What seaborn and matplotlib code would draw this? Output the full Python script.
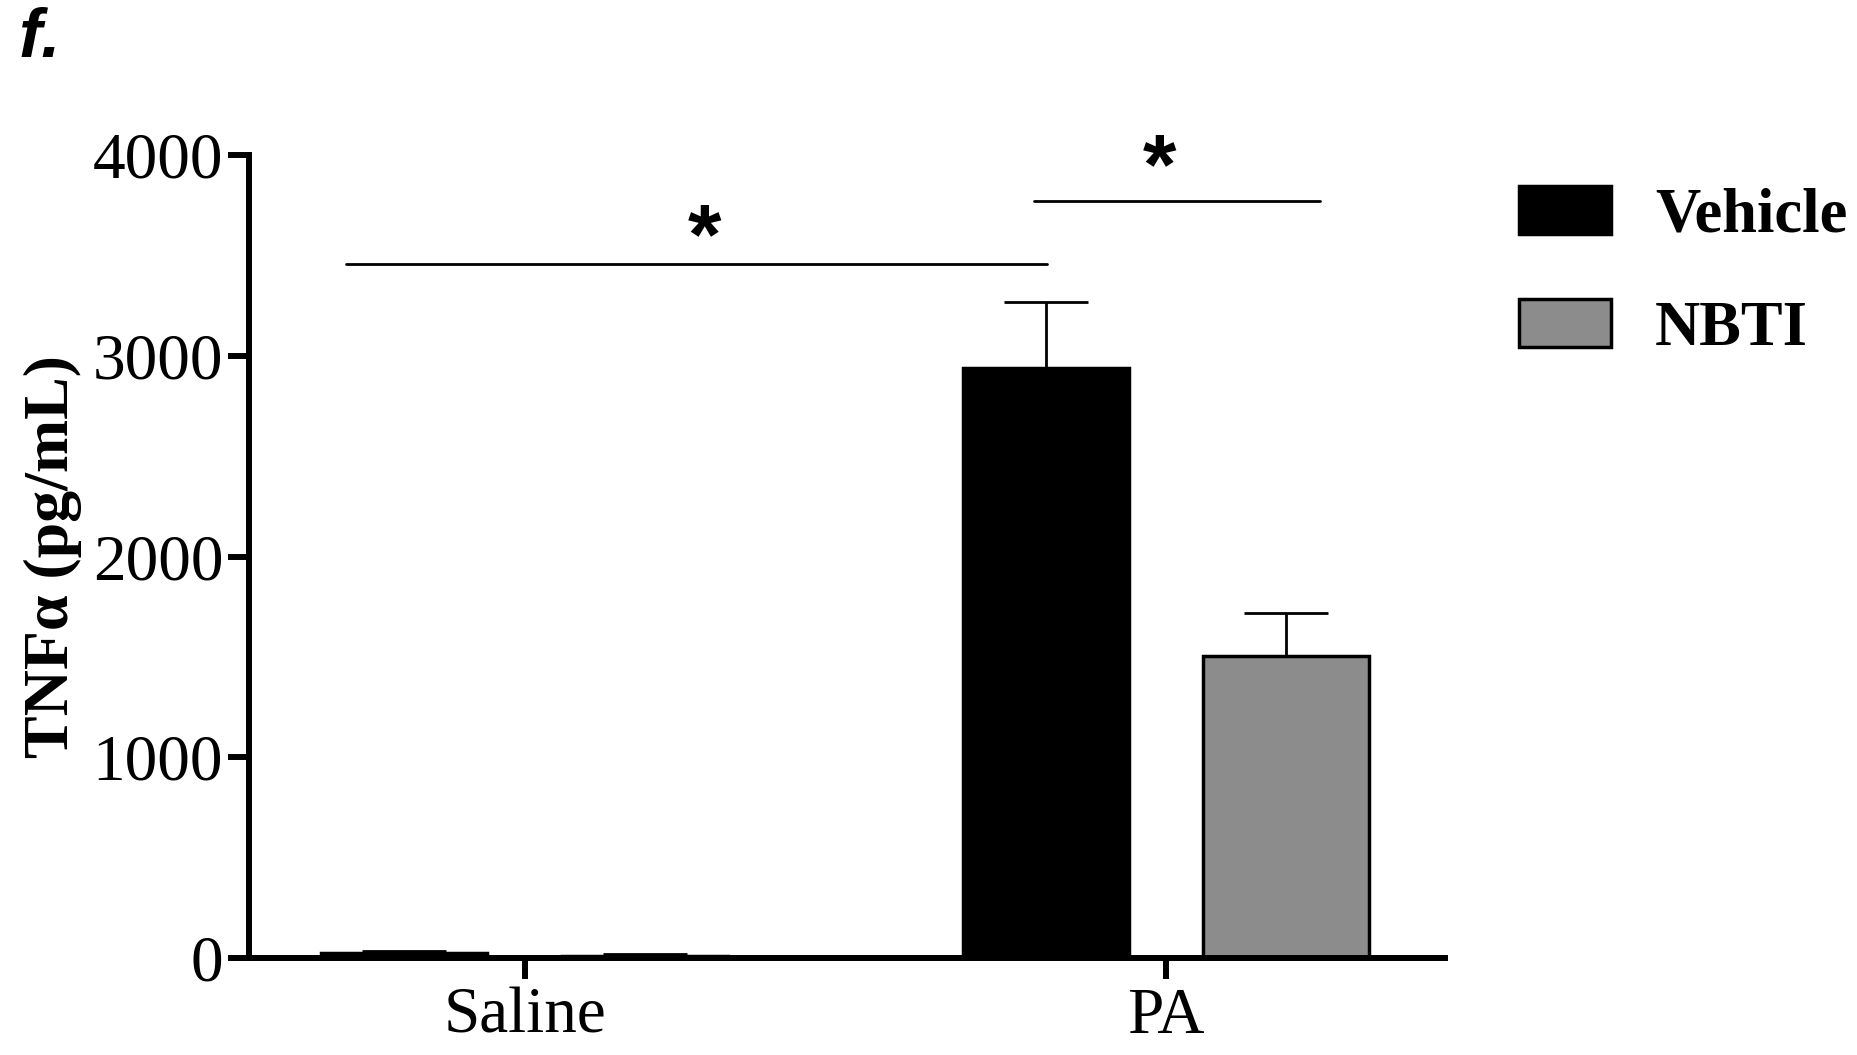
# TNFa levels, saline vs PA, vehicle vs NBTI
import pandas as pd
import matplotlib.pyplot as plt
import seaborn as sns

# Data
groups = ["Saline", "PA"]
treatments = ["Vehicle", "NBTI"]
vehicle_mean = [25, 2940]
vehicle_sem = [12, 330]
nbti_mean = [10, 1505]
nbti_sem = [12, 215]
yticks = [0, 1000, 2000, 3000, 4000]

df = pd.DataFrame({
    "Group": groups * 2,
    "Treatment": ["Vehicle"] * 2 + ["NBTI"] * 2,
    "TNF": vehicle_mean + nbti_mean,
    "SEM": vehicle_sem + nbti_sem,
})

sns.set_style("ticks")
plt.rcParams["font.family"] = ["Liberation Serif", "DejaVu Serif"]
plt.rcParams["text.color"] = "black"
plt.rcParams["axes.labelcolor"] = "black"
plt.rcParams["xtick.color"] = "black"
plt.rcParams["ytick.color"] = "black"
plt.rcParams["axes.edgecolor"] = "black"

fig = plt.figure(figsize=(18.57, 10.55), dpi=100)
ax = fig.add_axes([0.134, 0.092, 0.644, 0.761])

palette = {"Vehicle": "black", "NBTI": "#8c8c8c"}
sns.barplot(data=df, x="Group", y="TNF", hue="Treatment", order=groups,
            hue_order=treatments, palette=palette, width=0.75, gap=0.31,
            errorbar=None, edgecolor="black", linewidth=2.5, saturation=1,
            ax=ax)

# one-sided error bars at the bar centres
for container, t in zip(ax.containers, treatments):
    sub = df[df["Treatment"] == t].set_index("Group").loc[groups]
    xs = [b.get_x() + b.get_width() / 2 for b in container]
    ax.errorbar(xs, sub["TNF"], yerr=[[0] * len(xs), list(sub["SEM"])],
                fmt="none", ecolor="black", elinewidth=2, capsize=30,
                capthick=2, zorder=1)

ax.set_ylim(0, 4000)
ax.set_xlim(-0.43, 1.435)
ax.set_yticks(yticks)
ax.set_xlabel("")
ax.set_ylabel("TNFα (pg/mL)", fontsize=46, fontweight="bold", labelpad=8)
ax.tick_params(axis="both", labelsize=47, width=4.3, length=15)
ax.tick_params(axis="x", pad=6)
for s in ["left", "bottom"]:
    ax.spines[s].set_linewidth(4.3)
sns.despine(ax=ax)

# significance bars
ax.plot([-0.278, 0.814], [3457, 3457], color="black", lw=2, clip_on=False)
ax.plot([0.794, 1.24], [3770, 3770], color="black", lw=2, clip_on=False)
ax.text(0.28, 3570, "*", fontsize=62, fontweight="bold", family="Liberation Sans",
        ha="center", va="center", clip_on=False)
ax.text(0.99, 3920, "*", fontsize=62, fontweight="bold", family="Liberation Sans",
        ha="center", va="center", clip_on=False)

leg = ax.legend(loc="upper left", bbox_to_anchor=(1.062, 0.962), frameon=False,
                prop={"size": 45, "weight": "bold"}, handlelength=1.48,
                handleheight=0.82, labelspacing=0.85, handletextpad=0.7,
                borderpad=0, borderaxespad=0)

fig.text(0.010, 0.993, "f.", fontsize=50, fontweight="bold", style="italic",
         family="Liberation Sans", ha="left", va="top")

plt.savefig("out.png", dpi=100)
